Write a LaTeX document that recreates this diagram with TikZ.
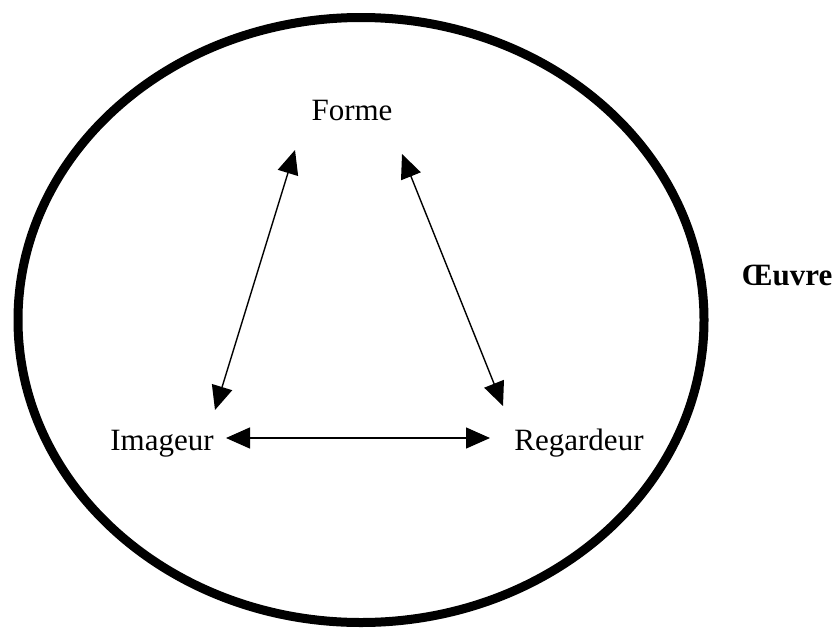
\documentclass[tikz,border=0pt]{standalone}
\usepackage{fontspec}
\setmainfont{Liberation Serif}
\usetikzlibrary{arrows.meta}
\begin{document}
\begin{tikzpicture}[x=1pt,y=-1pt,
  lbl/.style={font=\fontsize{31}{37}\selectfont, inner sep=0pt, anchor=base},
  biarrow/.style={line width=1.4pt, {Triangle[length=24pt,width=21pt]}-{Triangle[length=24pt,width=21pt]}}]
\useasboundingbox (0,0) rectangle (837,627);
\draw[line width=9pt] (361,320) ellipse [x radius=343, y radius=302.5];
\node[lbl] (forme) at (352,120) {Forme};
\node[lbl] (imageur) at (162,450) {Imageur};
\node[lbl] (regardeur) at (579,450) {Regardeur};
\node[lbl, font=\fontsize{31}{37}\selectfont\bfseries] (oeuvre) at (787,285) {Œuvre};
\coordinate (fl) at (295,150);
\coordinate (fr) at (402,154);
\coordinate (il) at (215,410);
\coordinate (rl) at (503,406);
\coordinate (ih) at (226,438);
\coordinate (rh) at (490,438);
\draw[biarrow] (fl) -- (il);
\draw[biarrow] (fr) -- (rl);
\draw[biarrow] (ih) -- (rh);
\end{tikzpicture}
\end{document}
